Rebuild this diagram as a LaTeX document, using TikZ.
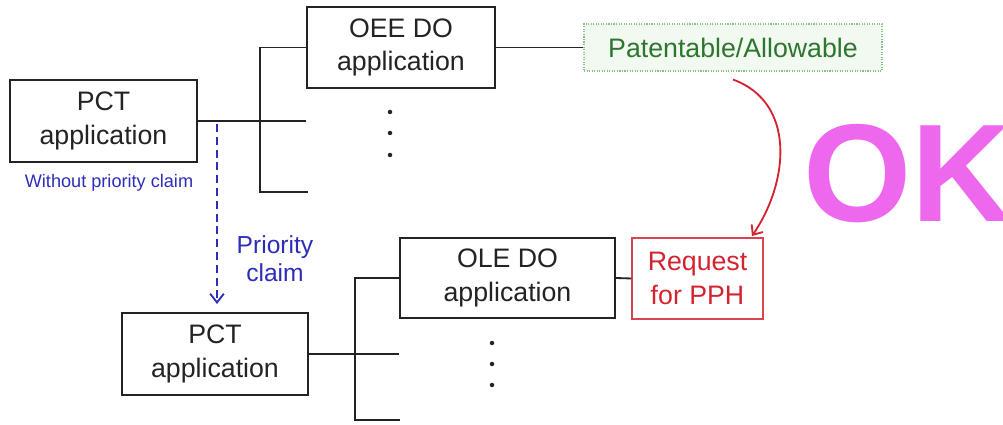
\documentclass[tikz,border=0pt]{standalone}
\usepackage{fontspec}
\setmainfont{Liberation Sans}
\usetikzlibrary{arrows.meta}
\definecolor{boxgray}{RGB}{35,35,35}
\definecolor{claimblue}{RGB}{45,45,185}
\definecolor{okpink}{RGB}{238,104,238}
\definecolor{pphred}{RGB}{212,35,48}
\definecolor{allowgreen}{RGB}{45,118,45}
\definecolor{allowfill}{RGB}{241,249,241}
\definecolor{allowedge}{RGB}{135,195,135}
\begin{document}
\begin{tikzpicture}[x=0.025cm,y=-0.025cm,
    appbox/.style={draw=boxgray,line width=1.4pt,align=center,inner sep=0pt,
      text=boxgray,font=\fontsize{19}{24}\selectfont},
    linkline/.style={draw=boxgray,line width=1.3pt},
    claimarrow/.style={draw=claimblue,line width=1.3pt,dash pattern=on 0.2cm off 0.12cm,
      -{Straight Barb[length=0.22cm,width=0.34cm,line width=1.3pt]}},
    pphtag/.style={text=pphred,font=\fontsize{19}{24}\selectfont,align=center}]
  \useasboundingbox (0,0) rectangle (1003,425);
  % first filing, without priority claim
  \node[appbox,minimum width=4.675cm,minimum height=2.05cm] (pct1) at (103.5,121) {PCT\\application};
  \node[appbox,minimum width=4.7cm,minimum height=2.025cm] (oee) at (401,47.5) {OEE DO\\application};
  \node[draw=allowedge,densely dotted,line width=0.8pt,fill=allowfill,inner sep=0pt,
    minimum width=7.45cm,minimum height=1.175cm,text=allowgreen,
    font=\fontsize{19}{24}\selectfont] (pat) at (733,47.5) {Patentable/Allowable};
  \node[text=claimblue,font=\fontsize{12.9}{15}\selectfont] (wo) at (109,183) {Without priority claim};
  \draw[linkline] (pct1.east) -- (pct1.east -| oee.west);
  \draw[linkline] (oee.west) -| (260,192) -- (308,192);
  \draw[linkline] (oee.east) -- (pat.west);
  \foreach \y in {112,133,155}
    \fill[boxgray] (390,\y) circle (1.6pt);
  % later filing with priority claim
  \node[appbox,minimum width=4.65cm,minimum height=2.05cm] (pct2) at (215,354) {PCT\\application};
  \node[appbox,minimum width=5.375cm,minimum height=2.0cm] (ole) at (507.5,278) {OLE DO\\application};
  \node[draw=pphred!85,line width=1pt,inner sep=0pt,minimum width=3.275cm,minimum height=2.025cm,
    pphtag] (req) at (697.5,278.5) {Request\\for PPH};
  \draw[linkline] (pct2.east) -- (pct2.east -| ole.west);
  \draw[linkline] (ole.west) -| (355,420) -- (400,420);
  \draw[linkline] (ole.east) -- (req.west);
  \foreach \y in {343,364,385}
    \fill[boxgray] (492,\y) circle (1.6pt);
  % priority claim
  \coordinate (split) at (217,124);
  \draw[claimarrow] (split) -- ([yshift=0.2cm]split |- pct2.north);
  \node[text=claimblue,align=center,font=\fontsize{17.5}{20}\selectfont] (prio) at (275,259) {Priority\\claim};
  % PPH
  \coordinate (pphin) at (752,236);
  \draw[pphred,line width=1.3pt,-{Straight Barb[length=0.2cm,width=0.34cm,line width=1.3pt]}]
    ([yshift=-0.2cm]pat.south) .. controls (795,102) and (790,180) .. (pphin);
  \node[anchor=base west,inner sep=0pt,text=okpink,font=\fontsize{99}{100}\selectfont\bfseries] (ok) at (803,222) {OK};
\end{tikzpicture}
\end{document}
